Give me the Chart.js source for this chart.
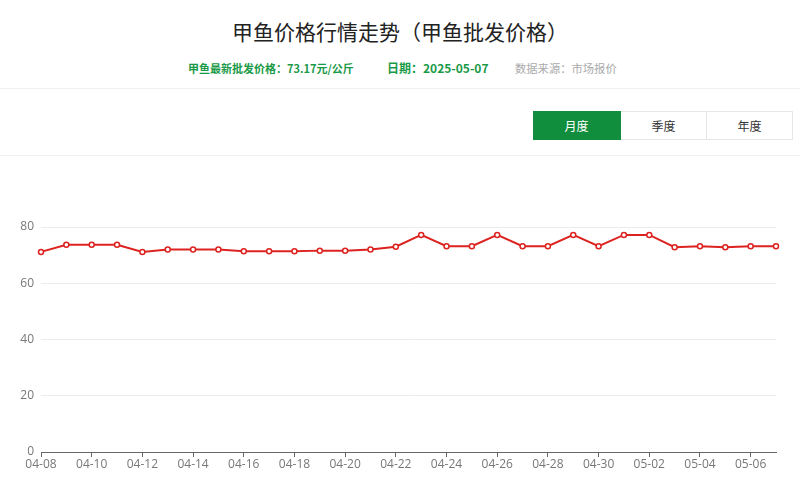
<!DOCTYPE html>
<html>
<head>
<meta charset="utf-8">
<script src="https://cdn.jsdelivr.net/npm/chart.js@4.4.1/dist/chart.umd.min.js"></script>
<style>
  body { margin: 0; background: #fff; font-family: "Noto Sans CJK SC", "Noto Sans", sans-serif; }
  #page { position: relative; width: 800px; height: 485px; overflow: hidden; }
  .title { position: absolute; top: 16px; left: 0; width: 800px; text-align: center; font-size: 21px; color: #222; line-height: 30px; }
  .sub span { position: absolute; top: 59px; line-height: 18px; white-space: nowrap; }
  .sub .g { color: #1a9a48; font-weight: bold; }
  .sub .d { color: #aaa; font-size: 11.3px; }
  .sep { position: absolute; left: 0; width: 800px; height: 1px; background: #f0f0f0; }
  .tabs { position: absolute; top: 111px; left: 533px; display: flex; }
  .tabs div { height: 27px; line-height: 27px; text-align: center; font-size: 12px; color: #333; border: 1px solid #e6e6e6; border-left: none; }
  .tabs .on { background: #108d3d; color: #fff; border-color: #108d3d; }
  #wrap { position: absolute; top: 160px; left: 0; width: 800px; height: 325px; }
</style>
</head>
<body>
<div id="page">
  <div class="title">甲鱼价格行情走势（甲鱼批发价格）</div>
  <div class="sub">
    <span class="g" style="left:188px; font-size:11px">甲鱼最新批发价格：73.17元/公斤</span>
    <span class="g" style="left:387px; font-size:12px">日期：2025-05-07</span>
    <span class="d" style="left:515px">数据来源：市场报价</span>
  </div>
  <div class="sep" style="top:88px"></div>
  <div class="tabs">
    <div class="on" style="width:87px">月度</div>
    <div style="width:85px">季度</div>
    <div style="width:85px">年度</div>
  </div>
  <div class="sep" style="top:155px"></div>
  <div id="wrap"><canvas id="priceChart"></canvas></div>
</div>
<script>
// 日期和价格（元/公斤）
const dates = ['04-08', '04-09', '04-10', '04-11', '04-12', '04-13', '04-14', '04-15', '04-16', '04-17',
               '04-18', '04-19', '04-20', '04-21', '04-22', '04-23', '04-24', '04-25', '04-26', '04-27',
               '04-28', '04-29', '04-30', '05-01', '05-02', '05-03', '05-04', '05-05', '05-06', '05-07'];
const prices = [71.15, 73.7, 73.7, 73.7, 71.15, 72.0, 72.0, 72.0, 71.4, 71.4,
                71.4, 71.6, 71.6, 72.0, 73.0, 77.17, 73.17, 73.17, 77.17, 73.17,
                73.17, 77.17, 73.17, 77.17, 77.17, 72.8, 73.17, 72.8, 73.17, 73.17];
const yTicks = [0, 20, 40, 60, 80];

document.addEventListener('DOMContentLoaded', () => {
    const ctx = document.getElementById('priceChart');

    new Chart(ctx, {
        type: 'line',
        data: {
            labels: dates,
            datasets: [{
                label: '甲鱼批发价格',
                data: prices,
                borderColor: '#dc2320',
                borderWidth: 2,
                backgroundColor: '#fff',
                pointBackgroundColor: '#fff',
                pointBorderColor: '#dc2320',
                pointBorderWidth: 1.5,
                pointRadius: 2.5,
                tension: 0
            }]
        },
        options: {
            responsive: true,
            maintainAspectRatio: false,
            animation: false,
            layout: { padding: { top: 67, right: 24, left: 0, bottom: 0 } },
            scales: {
                x: {
                    offset: false,
                    border: { color: '#666', width: 1 },
                    grid: {
                        drawOnChartArea: false,
                        drawTicks: true,
                        tickLength: 5,
                        color: (c) => (c.index % 2 === 0 ? '#666' : 'rgba(0,0,0,0)')
                    },
                    ticks: {
                        autoSkip: false,
                        maxRotation: 0,
                        color: '#777',
                        font: { size: 12, family: 'Open Sans, Noto Sans, sans-serif' },
                        padding: 0,
                        callback: (v, i) => (i % 2 === 0 ? dates[i] : '')
                    },
                    afterFit: (scale) => { scale.height = 33; }
                },
                y: {
                    min: yTicks[0],
                    max: yTicks[yTicks.length - 1],
                    border: { display: false },
                    grid: { color: '#ebebeb', drawTicks: false },
                    afterBuildTicks: (scale) => { scale.ticks = yTicks.map(v => ({ value: v })); },
                    ticks: {
                        color: '#777',
                        font: { size: 12, family: 'Open Sans, Noto Sans, sans-serif' },
                        padding: 7
                    },
                    afterFit: (scale) => { scale.width = 41; }
                }
            },
            plugins: {
                legend: { display: false },
                tooltip: { enabled: false }
            }
        }
    });
});
</script>
</body>
</html>
